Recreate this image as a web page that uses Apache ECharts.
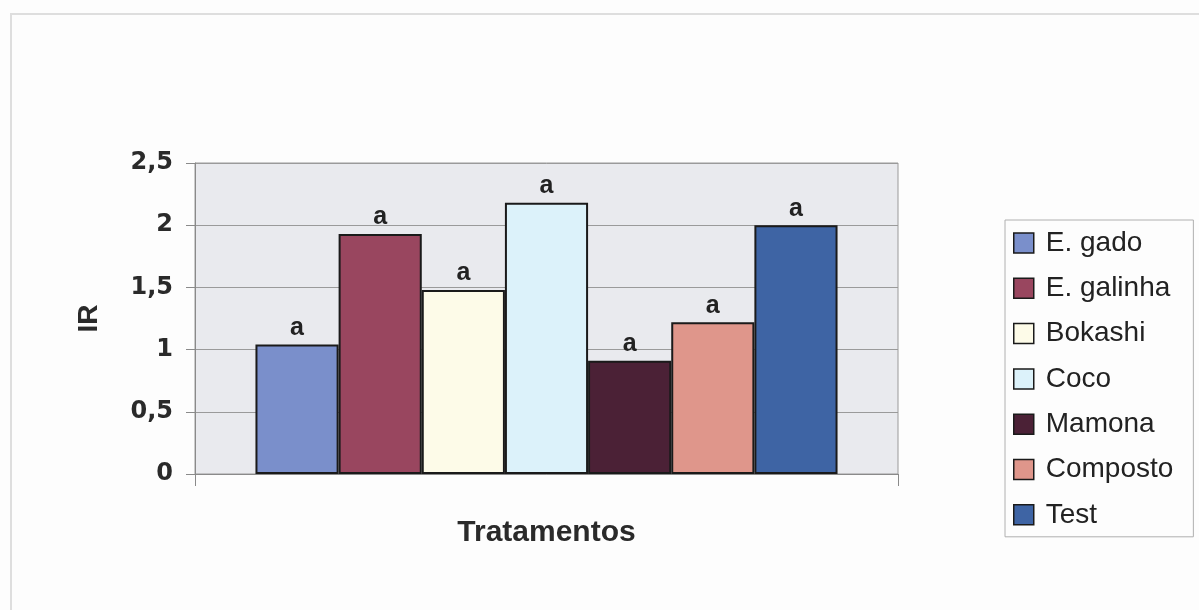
<!DOCTYPE html>
<html>
<head>
<meta charset="utf-8">
<script src="https://cdn.jsdelivr.net/npm/echarts@6/dist/echarts.min.js"></script>
<style>
html,body{margin:0;padding:0;background:#fdfdfd;}
#c{width:1199px;height:610px;}
</style>
</head>
<body>
<div id="c"></div>
<script>
const categories = [''];
const seriesNames = ['E. gado', 'E. galinha', 'Bokashi', 'Coco', 'Mamona', 'Composto', 'Test'];
const seriesValues = [1.04, 1.93, 1.48, 2.18, 0.91, 1.22, 2.00];
const seriesLabels = ['a', 'a', 'a', 'a', 'a', 'a', 'a'];
const seriesColors = ['#7a8fcb', '#99465f', '#fdfbe8', '#dcf2fa', '#4b2136', '#df968b', '#3e64a4'];
const yTicks = { min: 0, max: 2.5, interval: 0.5 };

const chart = echarts.init(document.getElementById('c'));
const series = seriesNames.map((name, i) => ({
  name: name,
  type: 'bar',
  data: [seriesValues[i]],
  barGap: '0%',
  barCategoryGap: '17.2%',
  itemStyle: { color: seriesColors[i], borderColor: '#1a1a1a', borderWidth: 2 },
  label: {
    show: true,
    position: 'top',
    distance: 4,
    formatter: () => seriesLabels[i],
    fontFamily: 'Liberation Sans, Arial, sans-serif',
    fontWeight: 'bold',
    fontSize: 25,
    color: '#222'
  }
}));

chart.setOption({
  backgroundColor: '#fdfdfd',
  animation: false,
  graphic: [{
    type: 'rect',
    shape: { x: 11, y: 14, width: 1200, height: 610 },
    style: { fill: 'none', stroke: '#dedede', lineWidth: 2 },
    silent: true
  }],
  grid: {
    left: 195, right: 301, top: 163, bottom: 136,
    show: true,
    backgroundColor: '#e9eaee',
    borderColor: '#9a9a9a',
    borderWidth: 1
  },
  legend: {
    orient: 'vertical',
    left: 1005,
    top: 220,
    padding: [9, 20, 8, 8],
    borderColor: '#b0b0b0',
    borderWidth: 1,
    backgroundColor: '#fdfdfd',
    icon: 'rect',
    itemWidth: 20,
    itemHeight: 20,
    itemGap: 17.3,
    itemStyle: { borderWidth: 1.5 },
    textStyle: {
      fontFamily: 'Liberation Sans, Arial, sans-serif',
      fontSize: 28,
      color: '#222',
      padding: [0, 0, 0, 7]
    },
    data: seriesNames
  },
  xAxis: {
    type: 'category',
    data: categories,
    name: 'Tratamentos',
    nameLocation: 'middle',
    nameGap: 44,
    nameTextStyle: {
      fontFamily: 'Liberation Sans, Arial, sans-serif',
      fontWeight: 'bold',
      fontSize: 30,
      color: '#2a2a2a'
    },
    axisLine: { lineStyle: { color: '#8a8a8a', width: 1 } },
    axisTick: { show: true, length: 12, lineStyle: { color: '#8a8a8a' } },
    axisLabel: { show: false }
  },
  yAxis: {
    type: 'value',
    min: yTicks.min,
    max: yTicks.max,
    interval: yTicks.interval,
    name: 'IR',
    nameLocation: 'middle',
    nameGap: 92,
    nameRotate: 90,
    nameTextStyle: {
      fontFamily: 'Liberation Sans, Arial, sans-serif',
      fontWeight: 'bold',
      fontSize: 28,
      color: '#2a2a2a'
    },
    axisLine: { show: true, lineStyle: { color: '#8a8a8a', width: 1 } },
    axisTick: { show: true, length: 9, lineStyle: { color: '#8a8a8a' } },
    splitLine: { show: true, lineStyle: { color: '#9a9a9a', width: 1 } },
    axisLabel: {
      margin: 22,
      fontFamily: 'DejaVu Sans, sans-serif',
      fontWeight: 'bold',
      fontSize: 24,
      color: '#2a2a2a',
      formatter: v => String(v).replace('.', ',')
    }
  },
  series: series
});
</script>
</body>
</html>
